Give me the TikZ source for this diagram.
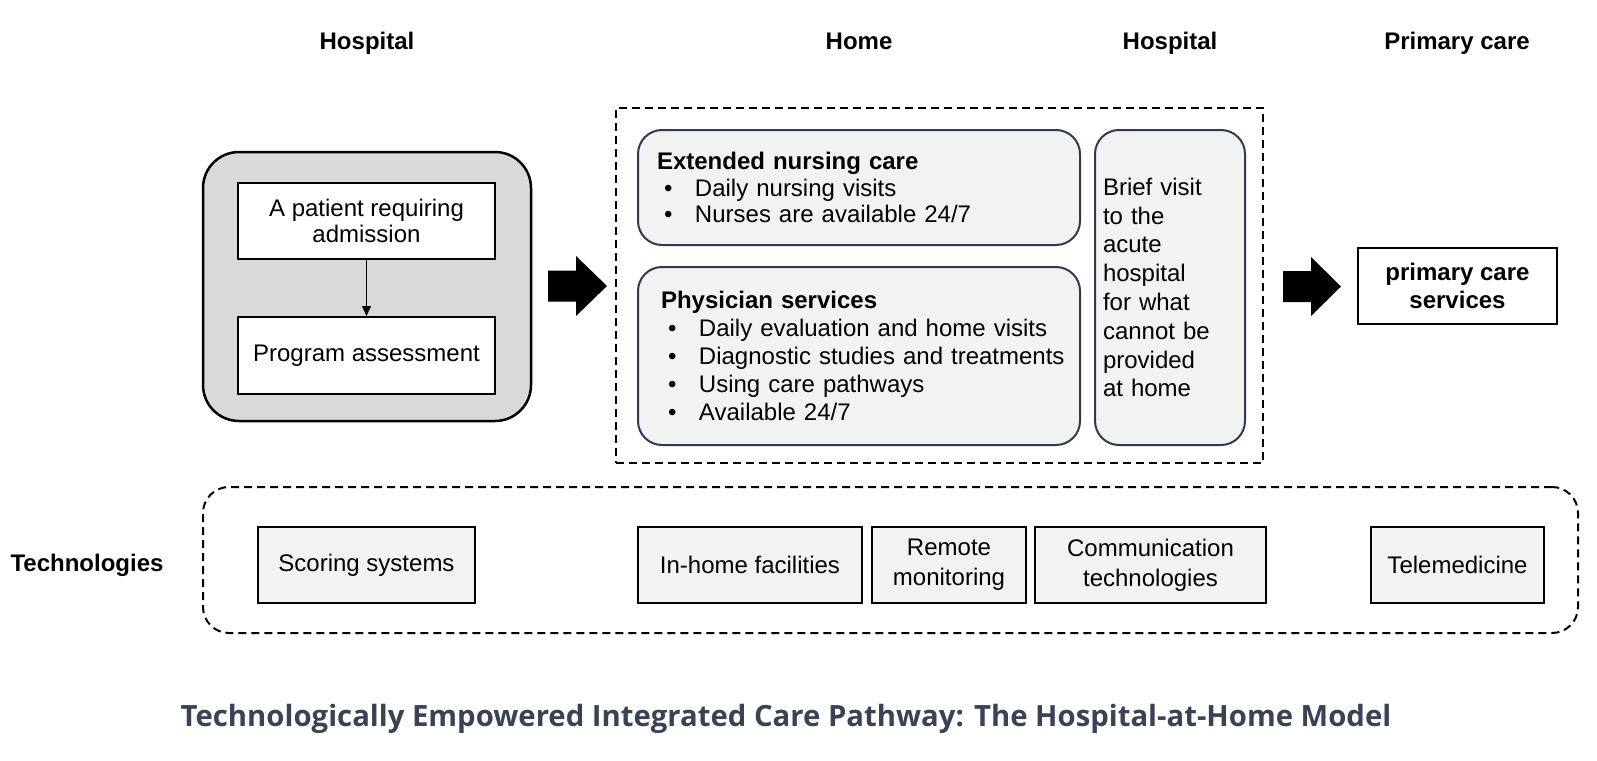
\documentclass[tikz,border=0pt]{standalone}
\usepackage{fontspec}
\setmainfont{Liberation Sans}
\newfontfamily\titlefont{Open Sans}
\usetikzlibrary{arrows.meta,positioning}

\definecolor{hospgray}{RGB}{217,217,217}
\definecolor{cardfill}{RGB}{242,242,242}
\definecolor{cardline}{RGB}{47,58,82}
\definecolor{titleblue}{RGB}{58,67,86}

% bullet line inside the cards
\newcommand{\itm}[1]{\mbox{\hspace*{7pt}\makebox[31pt][l]{\textbullet}#1}}

\begin{document}
\begin{tikzpicture}[x=1pt, y=-1pt,
    every node/.style={font=\fontsize{24}{26.5}\selectfont},
    head/.style={font=\fontsize{24}{28}\selectfont\bfseries, anchor=base},
    whitebox/.style={draw, line width=2pt, fill=white, align=center, inner sep=0pt},
    card/.style={draw=cardline, line width=2pt, fill=cardfill, rounded corners=24pt, align=left},
    techbox/.style={draw, line width=2.5pt, fill=cardfill, minimum height=76pt, align=center, inner sep=0pt,
        font=\fontsize{24}{30}\selectfont},
    dashbox/.style={draw, line width=2pt, dash pattern=on 8pt off 5pt, inner sep=0pt}]

    \useasboundingbox (0,0) rectangle (1597,760);

    % column headings
    \node[head] (hHosp) at (367,50) {Hospital};
    \node[head] (hHome) at (859,50) {Home};
    \node[head] (hHosp2) at (1170,50) {Hospital};
    \node[head] (hPrim) at (1457,50) {Primary care};

    % hospital block
    \node[draw, line width=2.5pt, fill=hospgray, rounded corners=36pt,
        minimum width=328pt, minimum height=269pt] (hospbox) at (367,286.5) {};
    \node[whitebox, minimum width=257pt, minimum height=76pt] (patient) at (366.5,221)
        {A patient requiring\\admission};
    \node[whitebox, minimum width=257pt, minimum height=77pt] (assess) at (366.5,355.5)
        {Program assessment};
    \draw[line width=1.2pt, -{Triangle[width=9pt,length=10pt]}] (patient) -- (assess);

    % first block arrow
    \fill (548,270.5) -- (576,270.5) -- (576,256) -- (607,286) -- (576,316)
        -- (576,301.5) -- (548,301.5) -- cycle;

    % home block
    \node[dashbox, minimum width=647pt, minimum height=355pt] (homebox) at (939.5,285.5) {};
    \node[card, minimum width=442pt, minimum height=115pt, text width=404pt, inner xsep=19pt]
        (nursing) at (859,187.5)
        {\textbf{Extended nursing care}\\
         \itm{Daily nursing visits}\\
         \itm{Nurses are available 24/7}};
    \node[card, minimum width=442pt, minimum height=178pt, text width=396pt, inner xsep=23pt,
        font=\fontsize{24}{28.2}\selectfont]
        (physician) at (859,356)
        {\textbf{Physician services}\\
         \itm{Daily evaluation and home visits}\\
         \itm{Diagnostic studies and treatments}\\
         \itm{Using care pathways}\\
         \itm{Available 24/7}};
    \node[card, minimum width=150pt, minimum height=315pt, text width=134pt, inner xsep=8pt,
        font=\fontsize{24}{28.8}\selectfont]
        (brief) at (1170,287.5)
        {Brief visit\\to the\\acute\\hospital\\for what\\cannot be\\provided\\at home};

    % second block arrow
    \fill (1283,271) -- (1311,271) -- (1311,257) -- (1341,286.5) -- (1311,316)
        -- (1311,302) -- (1283,302) -- cycle;

    % primary care
    \node[whitebox, minimum width=199pt, minimum height=76pt,
        font=\fontsize{24}{28.5}\selectfont\bfseries] (primary) at (1457.5,286)
        {primary care\\services};

    % technologies
    \node[font=\fontsize{24}{28}\selectfont\bfseries] (techlabel) at (87,565) {Technologies};
    \node[dashbox, rounded corners=26pt, minimum width=1375pt, minimum height=146pt] (techbox) at (890.5,560) {};
    \node[techbox, minimum width=217pt] (scoring) at (366.5,565) {Scoring systems};
    \node[techbox, minimum width=224pt] (inhome) at (750,565) {In-home facilities};
    \node[techbox, minimum width=154pt] (remote) at (949,565) {Remote\\monitoring};
    \node[techbox, minimum width=231pt] (comm) at (1150.5,565) {Communication\\technologies};
    \node[techbox, minimum width=173pt] (tele) at (1457.5,565) {Telemedicine};

    % title
    \node[font=\fontsize{29.3}{32}\selectfont\titlefont\bfseries, text=titleblue] (title) at (786,719)
        {Technologically Empowered Integrated Care Pathway: The Hospital-at-Home Model};
\end{tikzpicture}
\end{document}
